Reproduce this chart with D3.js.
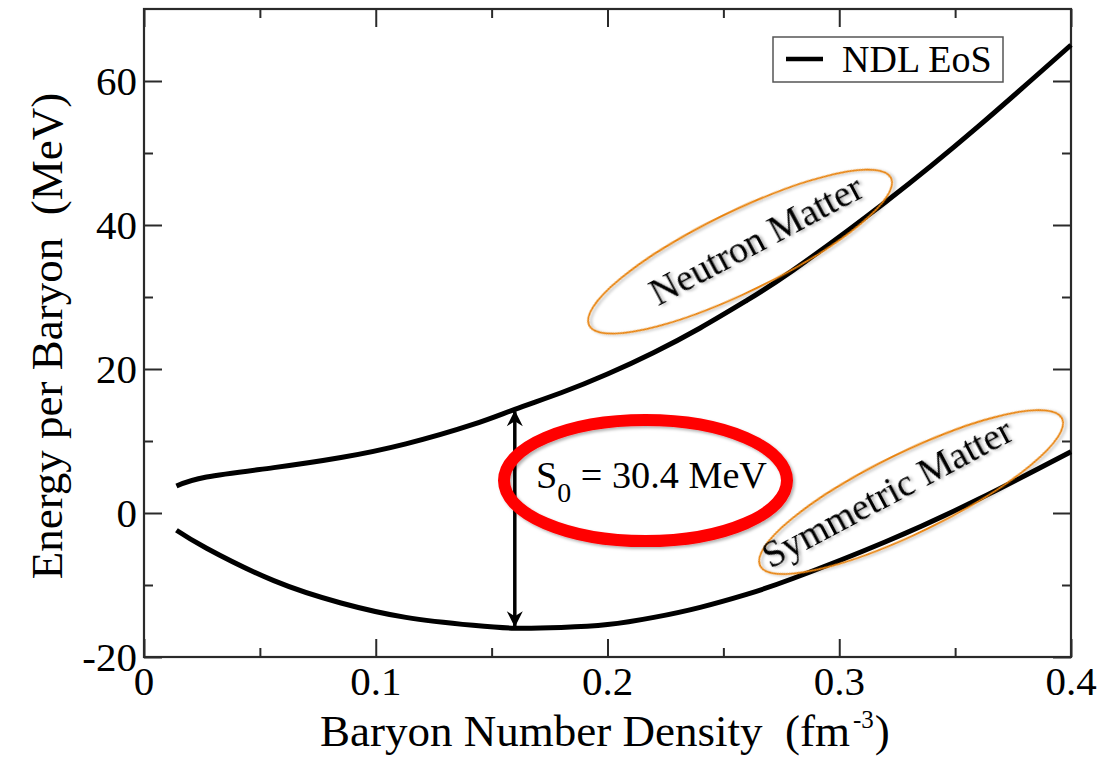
<!DOCTYPE html>
<html><head><meta charset="utf-8">
<script src="https://cdn.jsdelivr.net/npm/d3@7"></script>
<style>body{margin:0;background:#fff} svg{display:block} text{font-family:"Liberation Serif","Times New Roman",serif;fill:#000}</style>
</head><body><svg id="c" width="1119" height="765"></svg>
<script>
// ---- data ----
const density = [0.014, 0.027, 0.056, 0.085, 0.113, 0.142, 0.16, 0.18, 0.2, 0.22, 0.24, 0.26, 0.28, 0.32, 0.36, 0.4];
const neutronMatter = [3.75, 5.0, 6.3, 7.7, 9.6, 12.3, 14.4, 16.7, 19.3, 22.3, 25.7, 29.5, 33.7, 43.2, 53.7, 65.0];
const symmetricMatter = [-2.4, -4.9, -9.4, -12.5, -14.5, -15.6, -16.0, -15.9, -15.5, -14.5, -13.1, -11.3, -9.1, -4.0, 1.9, 8.5];
const xMajorTicks = [0, 0.1, 0.2, 0.3, 0.4];
const xMinorTicks = [0.05, 0.15, 0.25, 0.35];
const yMajorTicks = [-20, 0, 20, 40, 60];
const yMinorTicks = [-10, 10, 30, 50];
const xTickLabels = ["0", "0.1", "0.2", "0.3", "0.4"];
const yTickLabels = ["-20", "0", "20", "40", "60"];
const saturationDensity = 0.16;
const legendLabel = "NDL EoS";
const s0Value = "30.4 MeV";
const neutronLabel = "Neutron Matter";
const symmetricLabel = "Symmetric Matter";

// ---- layout ----
const svg = d3.select("#c");
const L = 144, R = 1071, T = 9, B = 657;
const x = d3.scaleLinear().domain([0, 0.4]).range([L, R]);
const y = d3.scaleLinear().domain([-20, 70]).range([B, T]);
const axisColor = "#2a2a2a";

const defs = svg.append("defs");
const f = defs.append("filter").attr("id", "sh").attr("x", "-20%").attr("y", "-20%").attr("width", "140%").attr("height", "140%");
f.append("feDropShadow").attr("dx", 2).attr("dy", 2).attr("stdDeviation", 1.8).attr("flood-color", "#000").attr("flood-opacity", 0.3);

defs.append("marker").attr("id", "ah").attr("markerUnits", "userSpaceOnUse")
  .attr("viewBox", "-17 -10 20 20").attr("markerWidth", 20).attr("markerHeight", 20)
  .attr("refX", 0).attr("refY", 0).attr("orient", "auto-start-reverse")
  .append("path").attr("d", "M1,0 L-15,-8 L-10,0 L-15,8 Z").attr("fill", "#000");

// ---- axes (ticks inward on all sides) ----
function tickAxis(gen, transform, vals, size) {
  svg.append("g").attr("transform", transform)
    .call(gen.tickValues(vals).tickSize(size).tickFormat(""))
    .call(g => g.select(".domain").remove())
    .call(g => g.selectAll("line").attr("stroke", axisColor).attr("stroke-width", 2));
}
tickAxis(d3.axisBottom(x), `translate(0,${B})`, xMajorTicks, -18);
tickAxis(d3.axisBottom(x), `translate(0,${B})`, xMinorTicks, -9);
tickAxis(d3.axisTop(x), `translate(0,${T})`, xMajorTicks, -18);
tickAxis(d3.axisTop(x), `translate(0,${T})`, xMinorTicks, -9);
tickAxis(d3.axisLeft(y), `translate(${L},0)`, yMajorTicks, -18);
tickAxis(d3.axisLeft(y), `translate(${L},0)`, yMinorTicks, -9);
tickAxis(d3.axisRight(y), `translate(${R},0)`, yMajorTicks, -18);
tickAxis(d3.axisRight(y), `translate(${R},0)`, yMinorTicks, -9);

svg.append("rect").attr("x", L).attr("y", T).attr("width", R - L).attr("height", B - T)
  .attr("fill", "none").attr("stroke", axisColor).attr("stroke-width", 2.2);

// tick labels
svg.append("g").selectAll("text").data(xMajorTicks).join("text")
  .attr("x", d => x(d)).attr("y", B + 38).attr("text-anchor", "middle")
  .attr("font-size", 41).text((d, i) => xTickLabels[i]);
svg.append("g").selectAll("text").data(yMajorTicks).join("text")
  .attr("x", L - 7).attr("y", d => y(d) + 14).attr("text-anchor", "end")
  .attr("font-size", 41).text((d, i) => yTickLabels[i]);

// axis titles
const xt = svg.append("text").attr("x", 320).attr("y", 746).attr("font-size", 45)
  .attr("xml:space", "preserve").text("Baryon Number Density  (fm");
const w1 = xt.node().getComputedTextLength();
const sup = svg.append("text").attr("x", 320 + w1 + 3).attr("y", 728).attr("font-size", 25).text("-3");
const w2 = sup.node().getComputedTextLength();
svg.append("text").attr("x", 320 + w1 + 3 + w2 + 1).attr("y", 746).attr("font-size", 45).text(")");
svg.append("text").attr("transform", "translate(62,336) rotate(-90)").attr("text-anchor", "middle")
  .attr("font-size", 45).attr("xml:space", "preserve").text("Energy per Baryon  (MeV)");

// ---- curves ----
const line = d3.line().x(d => x(d[0])).y(d => y(d[1])).curve(d3.curveNatural);
[neutronMatter, symmetricMatter].forEach(series => {
  svg.append("path").datum(density.map((n, i) => [n, series[i]]))
    .attr("d", line).attr("fill", "none").attr("stroke", "#000").attr("stroke-width", 5);
});

// ---- legend ----
svg.append("rect").attr("x", 773).attr("y", 37).attr("width", 230).attr("height", 45)
  .attr("fill", "#fff").attr("stroke", "#555").attr("stroke-width", 1.5);
svg.append("line").attr("x1", 786).attr("x2", 823).attr("y1", 59).attr("y2", 59)
  .attr("stroke", "#000").attr("stroke-width", 4.5);
svg.append("text").attr("x", 842).attr("y", 72).attr("font-size", 38).text(legendLabel);

// ---- S0 arrow ----
const i0 = density.indexOf(saturationDensity);
svg.append("line").attr("x1", x(saturationDensity)).attr("x2", x(saturationDensity))
  .attr("y1", y(symmetricMatter[i0]) - 2).attr("y2", y(neutronMatter[i0]) + 2)
  .attr("stroke", "#000").attr("stroke-width", 3.5)
  .attr("marker-start", "url(#ah)").attr("marker-end", "url(#ah)");

// red ellipse + text
svg.append("ellipse").attr("cx", x(0.2164)).attr("cy", y(4.5)).attr("rx", 141.5).attr("ry", 60.5)
  .attr("fill", "none").attr("stroke", "#f00").attr("stroke-width", 12).attr("filter", "url(#sh)");
const st = svg.append("text").attr("x", 536).attr("y", 488).attr("font-size", 37)
  .attr("textLength", 231).attr("lengthAdjust", "spacingAndGlyphs").attr("xml:space", "preserve");
st.append("tspan").text("S");
st.append("tspan").attr("font-size", 27).attr("dy", 14).text("0");
st.append("tspan").attr("dy", -14).text(" = " + s0Value);

// orange annotation ellipses
const orange = "#e8820c";
function tag(cn, cE, ang, tx, ty, label) {
  svg.append("ellipse").attr("transform", `translate(${x(cn)},${y(cE)}) rotate(${ang})`)
    .attr("rx", 168).attr("ry", 40).attr("fill", "none").attr("stroke", orange).attr("stroke-width", 1.8)
    .attr("filter", "url(#sh)");
  svg.append("text").attr("transform", `translate(${tx},${ty}) rotate(${ang - 2})`)
    .attr("text-anchor", "middle").attr("font-size", 38).attr("filter", "url(#sh)").text(label);
}
tag(0.2572, 36.3, -26, 762, 251, neutronLabel);
tag(0.331, 2.9, -26, 893, 504, symmetricLabel);
</script></body></html>
